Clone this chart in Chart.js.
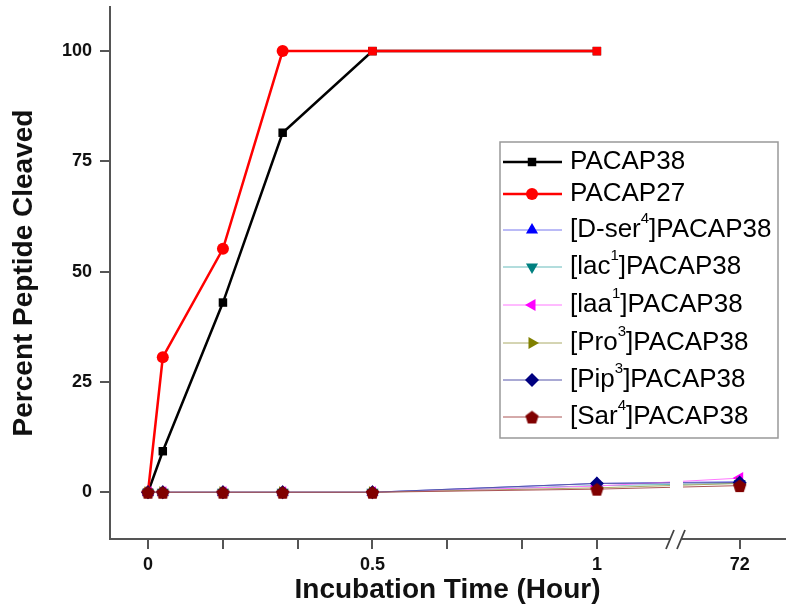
<!DOCTYPE html>
<html>
<head>
<meta charset="utf-8">
<script src="https://cdn.jsdelivr.net/npm/chart.js@4.4.1/dist/chart.umd.min.js"></script>
<style>
  body { margin: 0; background: #fff; }
</style>
</head>
<body>
<canvas id="cleaveChart" width="800" height="611"></canvas>
<script>
// incubation times (hours); 72 sits after the axis break
const hours = [0, 0.033, 0.167, 0.3, 0.5, 1, 72];

const pacap38 = [0, 9.3, 43, 81.5, 100, 100, null];
const pacap27 = [0, 30.6, 55.2, 100, 100, 100, null];
const dSer4 = [0, 0, 0, 0, 0, 2, 2.4];
const lac1 = [0, 0, 0, 0, 0, 1.5, 2];
const laa1 = [0, 0, 0, 0, 0, 1.4, 3.2];
const pro3 = [0, 0, 0, 0, 0, 1, 2];
const pip3 = [0, 0, 0, 0, 0, 2, 2.2];
const sar4 = [0, 0, 0, 0, 0, 0.7, 1.5];

const labels = ['PACAP38', 'PACAP27', '[D-ser^4]PACAP38', '[lac^1]PACAP38',
  '[laa^1]PACAP38', '[Pro^3]PACAP38', '[Pip^3]PACAP38', '[Sar^4]PACAP38'];

const yTicks = [0, 25, 50, 75, 100];
const xTickHours = [0, 1 / 6, 2 / 6, 0.5, 4 / 6, 5 / 6, 1, 72];
const xTickText = ['0', '', '', '0.5', '', '', '1', '72'];

// broken axis: everything up to 1 h is linear, 72 h is drawn at BREAK_POS
const BREAK_POS = 1.318;
const toAxis = (h) => (h > 1 ? BREAK_POS : h);

function pentagon(size, color) {
  const c = document.createElement('canvas');
  c.width = c.height = size;
  const g = c.getContext('2d');
  g.fillStyle = color;
  g.beginPath();
  for (let i = 0; i < 5; i++) {
    const a = -Math.PI / 2 + i * 2 * Math.PI / 5;
    const r = size / 2 - 0.5;
    g.lineTo(size / 2 + r * Math.cos(a), size / 2 + r * Math.sin(a) + 0.8);
  }
  g.closePath();
  g.fill();
  return c;
}

const series = [pacap38, pacap27, dSer4, lac1, laa1, pro3, pip3, sar4];
const styles = [
  { line: '#000000', mark: '#000000', w: 2.5, style: 'rect', r: 6, rot: 0 },
  { line: '#ff0000', mark: '#ff0000', w: 2.5, style: ['circle', 'circle', 'circle', 'circle', 'rect', 'rect', 'circle'], r: 6, rot: 0 },
  { line: '#7777ee', mark: '#0000ff', w: 1, style: 'triangle', r: 7, rot: 0 },
  { line: '#66bbbb', mark: '#008080', w: 1, style: 'triangle', r: 7, rot: 180 },
  { line: '#ff77ff', mark: '#ff00ff', w: 1, style: 'triangle', r: 7, rot: 270 },
  { line: '#aaaa66', mark: '#808000', w: 1, style: 'triangle', r: 7, rot: 90 },
  { line: '#5555aa', mark: '#000080', w: 1, style: 'rectRot', r: 7, rot: 0 },
  { line: '#aa5555', mark: '#800000', w: 1, style: pentagon(15, '#800000'), r: 7, rot: 0 }
];

const datasets = series.map((vals, i) => ({
  label: labels[i].replace('^', ''),
  data: vals.map((v, j) => ({ x: toAxis(hours[j]), y: v })).filter(p => p.y !== null),
  borderColor: styles[i].line,
  borderWidth: styles[i].w,
  backgroundColor: styles[i].mark,
  pointBackgroundColor: styles[i].mark,
  pointBorderColor: styles[i].mark,
  pointBorderWidth: 0,
  pointStyle: styles[i].style,
  pointRadius: styles[i].r,
  rotation: styles[i].rot,
  order: series.length - i,
  tension: 0
}));

const axisBreak = {
  id: 'axisBreak',
  afterDraw(chart) {
    const ctx = chart.ctx;
    const bottom = chart.chartArea.bottom;
    ctx.save();
    ctx.fillStyle = '#fff';
    // gap in the data lines and in the axis
    ctx.fillRect(670, 440, 13, 70);
    ctx.fillRect(671, bottom - 4, 11, 8);
    ctx.strokeStyle = '#444';
    ctx.lineWidth = 1.8;
    ctx.beginPath();
    ctx.moveTo(666, bottom + 10); ctx.lineTo(674, bottom - 9);
    ctx.moveTo(677, bottom + 10); ctx.lineTo(685, bottom - 9);
    ctx.stroke();
    ctx.restore();
  }
};

const legendRows = [162, 194, 230, 267, 305, 343, 380, 417];

const legendBox = {
  id: 'legendBox',
  afterDraw(chart) {
    const ctx = chart.ctx;
    ctx.save();
    ctx.fillStyle = '#fff';
    ctx.fillRect(500, 142, 278, 296);
    ctx.strokeStyle = '#999';
    ctx.lineWidth = 1.5;
    ctx.strokeRect(500, 142, 278, 296);
    chart.data.datasets.forEach((ds, i) => {
      const y = legendRows[i];
      ctx.strokeStyle = ds.borderColor;
      ctx.lineWidth = ds.borderWidth;
      ctx.beginPath();
      ctx.moveTo(503, y); ctx.lineTo(562, y);
      ctx.stroke();
      const ps = Array.isArray(ds.pointStyle) ? ds.pointStyle[0] : ds.pointStyle;
      ctx.fillStyle = ds.pointBackgroundColor;
      ctx.strokeStyle = ds.pointBorderColor;
      Chart.helpers.drawPoint(ctx, {
        pointStyle: ps, radius: ds.pointRadius, rotation: ds.rotation, borderWidth: 0
      }, 532, y);
      // label with superscript
      const parts = labels[i].split(/\^(\d)/);
      let x = 570;
      ctx.fillStyle = '#000';
      ctx.textBaseline = 'middle';
      parts.forEach((p, k) => {
        if (k % 2 === 1) {
          ctx.font = '15px "Liberation Sans", Arial, sans-serif';
          ctx.fillText(p, x, y - 11);
        } else {
          ctx.font = '26px "Liberation Sans", Arial, sans-serif';
          ctx.fillText(p, x, y);
        }
        x += ctx.measureText(p).width;
      });
    });
    ctx.restore();
  }
};

const tickFont = { family: '"Liberation Sans", Arial, sans-serif', size: 18, weight: 'bold' };
const titleFont = { family: '"Liberation Sans", Arial, sans-serif', size: 28, weight: 'bold' };

new Chart(document.getElementById('cleaveChart'), {
  type: 'line',
  data: { datasets },
  plugins: [axisBreak, legendBox],
  options: {
    responsive: false,
    animation: false,
    layout: { padding: { top: 5, right: 15, left: 0, bottom: 0 } },
    plugins: { legend: { display: false }, tooltip: { enabled: false } },
    scales: {
      x: {
        type: 'linear',
        min: -0.0846,
        max: 1.419,
        afterFit(scale) {
          scale.height = 72;
          scale.paddingLeft = 0;
          scale.paddingRight = 0;
        },
        afterBuildTicks(scale) {
          scale.ticks = xTickHours.map(h => ({ value: toAxis(h) }));
        },
        ticks: {
          autoSkip: false,
          maxRotation: 0,
          padding: 5,
          color: '#111',
          font: tickFont,
          callback: (value, index) => xTickText[index]
        },
        grid: { drawOnChartArea: false, drawTicks: true, tickLength: 10, color: '#555', lineWidth: 2 },
        border: { display: true, color: '#555', width: 2 },
        title: { display: true, text: 'Incubation Time (Hour)', color: '#111', font: titleFont, padding: { top: 0, bottom: 4 } }
      },
      y: {
        min: -10.6,
        max: 110,
        afterFit(scale) {
          scale.width = 110;
          scale.paddingTop = 0;
          scale.paddingBottom = 0;
        },
        afterBuildTicks(scale) {
          scale.ticks = yTicks.map(v => ({ value: v }));
        },
        ticks: { padding: 8, color: '#111', font: tickFont },
        grid: { drawOnChartArea: false, drawTicks: true, tickLength: 10, color: '#555', lineWidth: 2 },
        border: { display: true, color: '#555', width: 2 },
        title: { display: true, text: 'Percent Peptide Cleaved', color: '#111', font: titleFont, padding: { top: 7, bottom: 0 } }
      }
    }
  }
});
</script>
</body>
</html>
